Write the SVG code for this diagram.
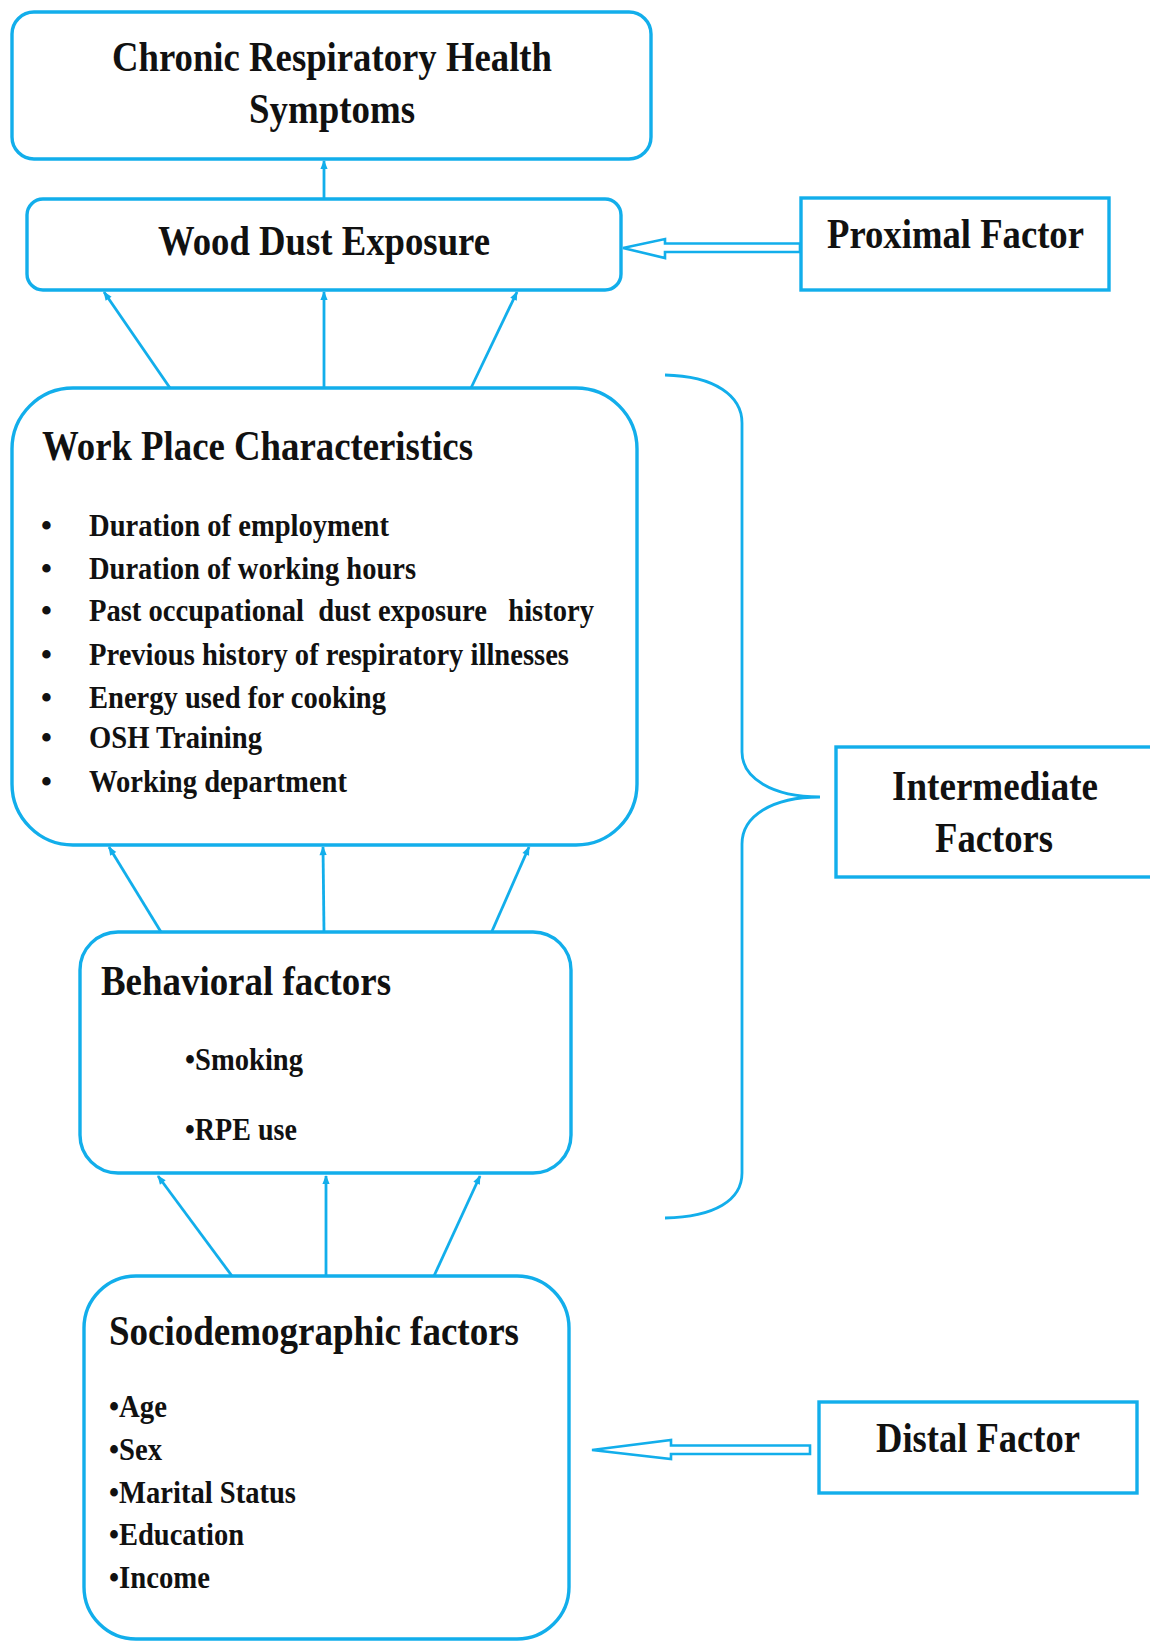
<svg xmlns="http://www.w3.org/2000/svg" width="1150" height="1642" viewBox="0 0 1150 1642">
<style>
.box{fill:#fff;stroke:#12AEEB;stroke-width:3.4}
.ln{stroke:#12AEEB;stroke-width:2.8;fill:none}
.hollow{fill:#fff;stroke:#12AEEB;stroke-width:2.6;stroke-linejoin:miter}
.t{font-family:"Liberation Serif","Times New Roman",serif;font-weight:bold;fill:#111}
.h{font-size:42px}
.i{font-size:31px}
.pre{white-space:pre}
</style>
<defs>
<marker id="ah" viewBox="0 0 10 10" refX="9" refY="5" markerWidth="10" markerHeight="9" markerUnits="userSpaceOnUse" orient="auto">
<path d="M0,1 L10,5 L0,9 z" fill="#12AEEB"/>
</marker>
</defs>
<rect width="1150" height="1642" fill="#fff"/>

<g id="connectors">
<line class="ln" x1="324" y1="199" x2="324" y2="161" marker-end="url(#ah)"/>
<line class="ln" x1="170" y1="388" x2="104" y2="292" marker-end="url(#ah)"/>
<line class="ln" x1="324" y1="388" x2="324" y2="292" marker-end="url(#ah)"/>
<line class="ln" x1="471" y1="388" x2="517" y2="292" marker-end="url(#ah)"/>
<line class="ln" x1="161" y1="932" x2="109" y2="847" marker-end="url(#ah)"/>
<line class="ln" x1="324" y1="932" x2="323" y2="847" marker-end="url(#ah)"/>
<line class="ln" x1="489" y1="938" x2="529" y2="847" marker-end="url(#ah)"/>
<line class="ln" x1="232" y1="1276" x2="158" y2="1176" marker-end="url(#ah)"/>
<line class="ln" x1="326" y1="1276" x2="326" y2="1176" marker-end="url(#ah)"/>
<line class="ln" x1="434" y1="1276" x2="480" y2="1176" marker-end="url(#ah)"/>
<polygon class="hollow" points="623,248 665,239 665,243.5 800,243.5 800,252 665,252 665,258"/>
<polygon class="hollow" points="592,1450 671,1440 671,1445.5 810,1445.5 810,1454 671,1454 671,1459"/>
<path class="ln" d="M665,375 C715,376 742,396 742,423 L742,752 C742,778 772,797 820,797 C772,797 742,816 742,844 L742,1173 C742,1200 715,1217 665,1218"/>
</g>

<g id="node-chronic">
<rect class="box" x="12" y="12" width="639" height="147" rx="22"/>
<text class="t h" x="112" y="71" textLength="440" lengthAdjust="spacingAndGlyphs">Chronic Respiratory Health</text>
<text class="t h" x="249" y="123" textLength="166" lengthAdjust="spacingAndGlyphs">Symptoms</text>
</g>

<g id="node-wood">
<rect class="box" x="27" y="199" width="594" height="91" rx="16"/>
<text class="t h" x="158" y="255" textLength="332" lengthAdjust="spacingAndGlyphs">Wood Dust Exposure</text>
</g>

<g id="node-proximal">
<rect class="box" x="801" y="198" width="308" height="92"/>
<text class="t h" x="827" y="248" textLength="257" lengthAdjust="spacingAndGlyphs">Proximal Factor</text>
</g>

<g id="node-workplace">
<rect class="box" x="12" y="388" width="625" height="457" rx="61"/>
<text class="t h" x="42" y="460" textLength="431" lengthAdjust="spacingAndGlyphs">Work Place Characteristics</text>
<g class="t i">
<text x="41" y="536">•</text>
<text x="89" y="536" textLength="300" lengthAdjust="spacingAndGlyphs">Duration of employment</text>
<text x="41" y="579">•</text>
<text x="89" y="579" textLength="327" lengthAdjust="spacingAndGlyphs">Duration of working hours</text>
<text x="41" y="621">•</text>
<text class="pre" x="89" y="621" textLength="505" lengthAdjust="spacingAndGlyphs">Past occupational  dust exposure   history</text>
<text x="41" y="665">•</text>
<text x="89" y="665" textLength="480" lengthAdjust="spacingAndGlyphs">Previous history of respiratory illnesses</text>
<text x="41" y="708">•</text>
<text x="89" y="708" textLength="297" lengthAdjust="spacingAndGlyphs">Energy used for cooking</text>
<text x="41" y="748">•</text>
<text x="89" y="748" textLength="173" lengthAdjust="spacingAndGlyphs">OSH Training</text>
<text x="41" y="792">•</text>
<text x="89" y="792" textLength="258" lengthAdjust="spacingAndGlyphs">Working department</text>
</g>
</g>

<g id="node-behavioral">
<rect class="box" x="80" y="932" width="491" height="241" rx="38"/>
<text class="t h" x="101" y="995" textLength="290" lengthAdjust="spacingAndGlyphs">Behavioral factors</text>
<text class="t i" x="185" y="1070" textLength="118" lengthAdjust="spacingAndGlyphs">•Smoking</text>
<text class="t i" x="185" y="1140" textLength="112" lengthAdjust="spacingAndGlyphs">•RPE use</text>
</g>

<g id="node-socio">
<rect class="box" x="84" y="1276" width="485" height="363" rx="52"/>
<text class="t h" x="109" y="1345" textLength="410" lengthAdjust="spacingAndGlyphs">Sociodemographic factors</text>
<text class="t i" x="109" y="1417" textLength="58" lengthAdjust="spacingAndGlyphs">•Age</text>
<text class="t i" x="109" y="1460" textLength="53" lengthAdjust="spacingAndGlyphs">•Sex</text>
<text class="t i" x="109" y="1503" textLength="187" lengthAdjust="spacingAndGlyphs">•Marital Status</text>
<text class="t i" x="109" y="1545" textLength="135" lengthAdjust="spacingAndGlyphs">•Education</text>
<text class="t i" x="109" y="1588" textLength="101" lengthAdjust="spacingAndGlyphs">•Income</text>
</g>

<g id="node-intermediate">
<rect class="box" x="836" y="747" width="330" height="130"/>
<text class="t h" x="892" y="800" textLength="206" lengthAdjust="spacingAndGlyphs">Intermediate</text>
<text class="t h" x="935" y="852" textLength="118" lengthAdjust="spacingAndGlyphs">Factors</text>
</g>

<g id="node-distal">
<rect class="box" x="819" y="1402" width="318" height="91"/>
<text class="t h" x="876" y="1452" textLength="204" lengthAdjust="spacingAndGlyphs">Distal Factor</text>
</g>
</svg>
